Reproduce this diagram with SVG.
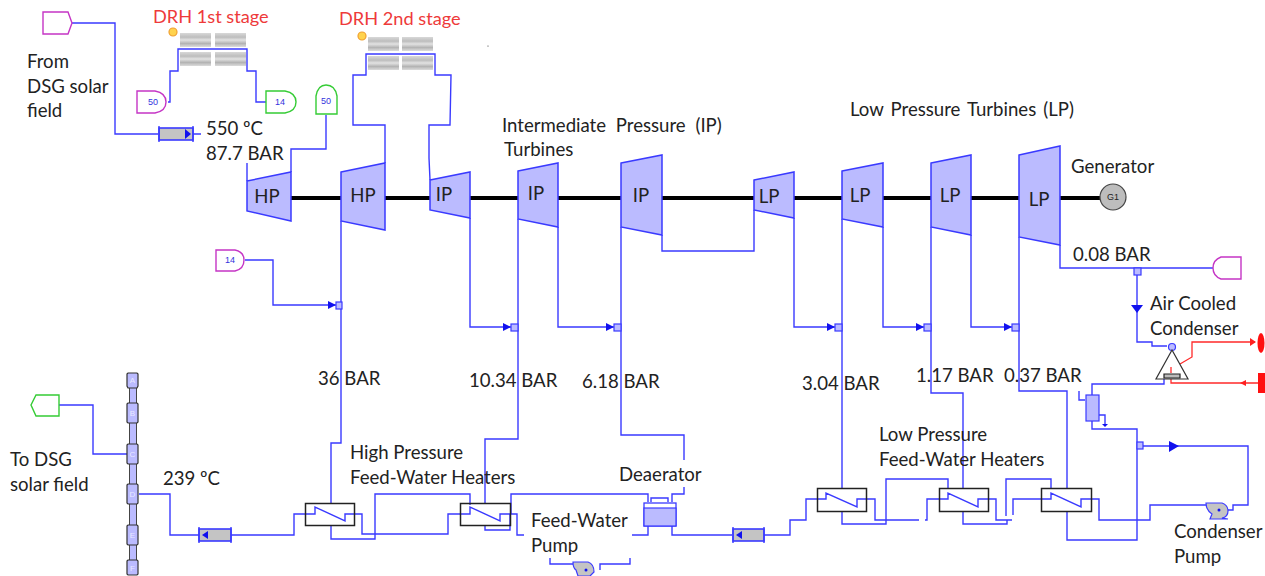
<svg xmlns="http://www.w3.org/2000/svg" width="1265" height="576" viewBox="0 0 1265 576">
<style>
text{font-family:Lato,"Open Sans","Liberation Sans",sans-serif;font-size:18.6px;fill:#222;transform:translateY(1px)}
.red{fill:#ee3a3a;font-size:18.2px}
.c{text-anchor:middle}
.wide{word-spacing:2.5px}
.tag{font-family:"Liberation Sans",sans-serif;font-size:9px;fill:#3333dd;text-anchor:middle;transform:none}
.cell{font-family:"Liberation Sans",sans-serif;font-size:8px;fill:#e8e8ff;text-anchor:middle;transform:none}
.l{fill:none;stroke:#3a3aff;stroke-width:1.4}
.r{fill:none;stroke:#ff2a2a;stroke-width:1.3}
.sh{fill:none;stroke:#000;stroke-width:4}
.t{fill:#bbbbff;stroke:#3a3aff;stroke-width:1.5}
.box{fill:#bbbbff;stroke:#3a3aff;stroke-width:1.2}
.mg{fill:#fff;stroke:#c535c5;stroke-width:1.4}
.gr{fill:#fff;stroke:#35cc35;stroke-width:1.4}
.hx{fill:none;stroke:#222;stroke-width:1.5}
.v{fill:#c4c4c4;stroke:#3a3aff;stroke-width:1.6}
.a{fill:#1111ee}
.sun{fill:#ffd34d;stroke:#f0a030;stroke-width:1.2}
.sol{fill:url(#g)}
</style>
<defs>
<linearGradient id="g" x1="0" y1="0" x2="0" y2="1">
<stop offset="0" stop-color="#d8d8d8"/><stop offset=".3" stop-color="#bdbdbd"/><stop offset=".5" stop-color="#e2e2e2"/><stop offset=".75" stop-color="#b4b4b4"/><stop offset="1" stop-color="#dcdcdc"/>
</linearGradient>
</defs>

<g id="connectors">
<path class="sh" d="M291 198H1100"/>
<path class="l" d="M72 23H115V134H158M193 134H201"/>
<path class="l" d="M168 102H170V71H178V49H247V71H256V102H266"/>
<path class="l" d="M326 115V149H291V172M247 163V181"/>
<path class="l" d="M385 163V125H353V75H366V54H435V75H451L450 125H429V158L430 180"/>
<path class="l" d="M245 260H273V305H336"/>
<path class="l" d="M341 221V443H331V503M331 525V539H375V534"/>
<path class="l" d="M470 218V327H511M558 227V327H614M662 235V251H754V210M794 218V327H835M883 227V327H924M971 235V327H1012"/>
<path class="l" d="M518 219V439H485V503M485 525V530H510V514"/>
<path class="l" d="M621 227V435H684V460M684 487V494H672V502M648 502V494H511V514"/>
<path class="l" d="M842 219V488M842 511V524H886V520M886 520V479H948V488"/>
<path class="l" d="M931 227V393H963V488M963 511V524H1007V520M1006 516V479H1051V488"/>
<path class="l" d="M1019 237V391H1067V488M1067 511V540H1137V429H1092V420M1137 449V429"/>
<path class="l" d="M59 405H93V454H127M139 494H170V535H199M231 535H294V514H315V507L345 521V514H362V534H448V514H470V507L500 521V514H517V535H524"/>
<path class="l" d="M375 534V494H470V505"/>
<path class="l" d="M632 535H648V526M672 526V535H732M764 535H790V520H806V499H826V493L857 507V499H875V520H919M925 520H927V499H948V493L978 507V499H996V520H1012M1013 515V499H1051V493L1081 507V499H1099V520H1150V505H1206M1228 510H1233V505H1248V446H1143"/>
<path class="l" d="M550 558V564H573M600 570V564H630V558"/>
<path class="l" d="M1060 245V268H1213M1137 275V342H1152V346H1167"/>
<path class="l" d="M1164 379V384H1092V395M1079 391V400H1085M1099 415H1105V424"/>
<path class="r" d="M1180 364L1192 357V342H1255M1171 373V383H1258"/>
<path class="a" d="M1131 305H1143L1137 313ZM1169 441L1179 446L1169 452ZM328 301L336 305L328 309ZM503 323L511 327L503 331ZM606 323L614 327L606 331ZM827 323L835 327L827 331ZM916 323L924 327L916 331ZM1004 323L1012 327L1004 331Z"/>
<path d="M1102 424H1108L1105 427Z" class="a"/>
<path d="M1240 383L1246 380V386ZM1250 338L1256 342L1250 346Z" fill="#ff2020"/>
</g>

<g id="source-from-dsg"><path class="mg" d="M43 12H68L72 23L68 34H43Z"/></g>
<g id="label-from"><text x="27" y="67">From</text><text x="27" y="92">DSG solar</text><text x="27" y="116">field</text></g>
<g id="valve-hp"><rect class="v" x="159" y="128" width="34" height="12"/><path class="l" d="M159 126V142M193 126V142"/><path class="a" d="M185 129L191 134L185 139Z"/></g>
<g id="drh1">
<text class="red" x="153" y="22">DRH 1st stage</text>
<circle class="sun" cx="173" cy="32" r="4"/>
<rect class="sol" x="180" y="33" width="31" height="14"/><rect class="sol" x="215" y="33" width="31" height="14"/>
<rect class="sol" x="180" y="52" width="31" height="14"/><rect class="sol" x="215" y="52" width="31" height="14"/>
</g>
<g id="drh2">
<text class="red" x="339" y="24">DRH 2nd stage</text>
<circle class="sun" cx="362" cy="36" r="4"/>
<rect class="sol" x="368" y="37" width="31" height="14"/><rect class="sol" x="402" y="37" width="31" height="14"/>
<rect class="sol" x="368" y="56" width="31" height="14"/><rect class="sol" x="402" y="56" width="31" height="14"/>
</g>
<g id="tag-50-a"><path class="mg" d="M137 91H155Q166 93 166 102Q166 111 155 113H137Z"/><text class="tag" x="153" y="105">50</text></g>
<g id="tag-14-a"><path class="gr" d="M266 91H285Q296 93 296 102Q296 111 285 113H266Z"/><text class="tag" x="280" y="105">14</text></g>
<g id="tag-50-b"><path class="gr" d="M316 114V96Q318 85 326 85Q335 85 337 96V114Z"/><text class="tag" x="326" y="104">50</text></g>
<g id="tag-14-b"><path class="mg" d="M216 250H235Q244 252 244 260Q244 269 235 271H216Z"/><text class="tag" x="230" y="263">14</text></g>
<g id="label-steam"><text x="206" y="134">550 ºC</text><text x="206" y="159">87.7 BAR</text></g>

<g id="hp1"><path class="t" d="M247 181L291 172V221L247 211Z"/><text class="c" x="267" y="202">HP</text></g>
<g id="hp2"><path class="t" d="M341 172L385 163V230L341 221Z"/><text class="c" x="363" y="201">HP</text></g>
<g id="ip1"><path class="t" d="M430 180L470 172V218L430 210Z"/><text class="c" x="444" y="200">IP</text></g>
<g id="ip2"><path class="t" d="M518 171L558 163V227L518 219Z"/><text class="c" x="536" y="199">IP</text></g>
<g id="ip3"><path class="t" d="M621 163L662 155V235L621 227Z"/><text class="c" x="641" y="201">IP</text></g>
<g id="lp1"><path class="t" d="M754 180L794 172V218L754 210Z"/><text class="c" x="769" y="202">LP</text></g>
<g id="lp2"><path class="t" d="M842 171L883 163V227L842 219Z"/><text class="c" x="860" y="201">LP</text></g>
<g id="lp3"><path class="t" d="M931 163L971 155V235L931 227Z"/><text class="c" x="950" y="201">LP</text></g>
<g id="lp4"><path class="t" d="M1019 155L1060 146V245L1019 237Z"/><text class="c" x="1039" y="205">LP</text></g>
<g id="generator"><circle cx="1113" cy="197" r="13" fill="#bdbdbd" stroke="#444" stroke-width="1.2"/><text class="tag" style="fill:#222" x="1113" y="200">G1</text><text x="1071" y="172">Generator</text></g>

<g id="labels">
<text class="wide" x="502" y="131" style="word-spacing:5px">Intermediate Pressure (IP)</text>
<text x="504" y="155">Turbines</text>
<text class="wide" x="850" y="115" style="word-spacing:2.300px">Low Pressure Turbines (LP)</text>
<text x="1073" y="260">0.08 BAR</text>
<text x="1150" y="309">Air Cooled</text>
<text x="1150" y="334">Condenser</text>
<text x="318" y="384">36 BAR</text>
<text x="469" y="386">10.34 BAR</text>
<text x="582" y="387">6.18 BAR</text>
<text x="802" y="389">3.04 BAR</text>
<text x="916" y="381">1.17 BAR</text>
<text x="1004" y="381">0.37 BAR</text>
<text x="350" y="458">High Pressure</text>
<text x="350" y="483">Feed-Water Heaters</text>
<text x="619" y="480">Deaerator</text>
<text x="531" y="526">Feed-Water</text>
<text x="531" y="551">Pump</text>
<text x="879" y="440">Low Pressure</text>
<text x="879" y="465">Feed-Water Heaters</text>
<text x="1174" y="537">Condenser</text>
<text x="1174" y="562">Pump</text>
<text x="10" y="465">To DSG</text>
<text x="10" y="490">solar field</text>
<text x="163" y="484">239 ºC</text>
</g>

<g id="sink-0-08"><path class="mg" d="M1241 257H1221Q1213 260 1213 268Q1213 276 1221 279H1241Z"/></g>
<g id="tag-to-dsg"><path class="gr" d="M59 395H36L31 405L36 416H59Z"/></g>
<g id="deaerator-column">
<path d="M129.500 380H136.500V570H129.500Z" fill="#bbbbff" stroke="#444" stroke-width="1"/>
<g fill="#bbbbff" stroke="#333" stroke-width="1.200">
<path d="M127 374L128 373H137L138 374V386L137 388H128L127 386Z"/><path d="M127 404L128 403H137L138 404V422L137 423H128L127 422Z"/><path d="M127 445L128 444H137L138 445V463L137 464H128L127 463Z"/><path d="M127 485L128 484H137L138 485V503L137 504H128L127 503Z"/><path d="M127 526L128 525H137L138 526V544L137 545H128L127 544Z"/><path d="M127 561L128 560H137L138 561V574L137 575H128L127 574Z"/>
</g>
<text class="cell" x="132.500" y="383">A</text><text class="cell" x="132.500" y="416">B</text><text class="cell" x="132.500" y="457">C</text><text class="cell" x="132.500" y="497">D</text><text class="cell" x="132.500" y="538">E</text><text class="cell" x="132.500" y="571">F</text>
</g>
<g id="valve-fw1"><rect class="v" x="199" y="529" width="32" height="12"/><path class="l" d="M199 527V543M231 527V543"/><path class="a" d="M202 535L208 531V539Z"/></g>
<g id="valve-fw2"><rect class="v" x="733" y="529" width="31" height="12"/><path class="l" d="M733 527V543M764 527V543"/><path class="a" d="M736 535L742 531V539Z"/></g>
<g id="heater-1"><rect class="hx" x="305.500" y="503.500" width="49" height="22"/></g>
<g id="heater-2"><rect class="hx" x="460.500" y="503.500" width="50" height="22"/></g>
<g id="heater-3"><rect class="hx" x="817.500" y="488.500" width="49" height="23"/></g>
<g id="heater-4"><rect class="hx" x="939.500" y="488.500" width="49" height="23"/></g>
<g id="heater-5"><rect class="hx" x="1041.500" y="488.500" width="50" height="23"/></g>
<g id="deaerator"><path class="l" d="M651 502V498H668V502"/><rect x="644" y="503" width="32" height="23" fill="#fff" stroke="#3a3aff" stroke-width="1.3"/><rect class="box" x="644" y="508" width="32" height="18"/></g>
<g id="feed-pump"><path d="M573 562H588Q594 564 594 572L590 576H578L576 570Q573 568 573 562Z" fill="#c4c4c4" stroke="#3a3aff" stroke-width="1.2"/><circle class="a" cx="586" cy="570" r="1.500"/></g>
<g id="condenser-pump"><path d="M1206 503H1222Q1228 505 1228 511Q1228 517 1222 518L1228 519H1210L1212 514Q1206 510 1206 503Z" fill="#c4c4c4" stroke="#3a3aff" stroke-width="1.200"/><circle class="a" cx="1219" cy="510" r="1.500"/></g>
<g id="junctions"><rect class="box" x="336" y="302" width="6" height="7"/><rect class="box" x="511" y="324" width="7" height="7"/><rect class="box" x="614" y="324" width="7" height="7"/><rect class="box" x="835" y="324" width="7" height="7"/><rect class="box" x="924" y="324" width="7" height="7"/><rect class="box" x="1012" y="324" width="7" height="7"/><rect class="box" x="1134" y="268" width="7" height="7"/><rect class="box" x="1137" y="442" width="6" height="7"/></g>
<g id="air-condenser"><circle class="box" cx="1172" cy="347" r="3.500"/><path d="M1172 350L1156 379H1188Z" fill="#fff" stroke="#333" stroke-width="1.200"/><path d="M1164 374H1180V378H1164Z" fill="#bbb" stroke="#222" stroke-width="1.200"/><path class="r" d="M1171 367V373"/></g>
<g id="hot-well"><rect class="box" x="1086" y="395" width="13" height="26"/></g>
<g id="air-out"><ellipse cx="1261" cy="343" rx="3.500" ry="10" fill="#ff1010"/></g>
<g id="air-in"><rect x="1258" y="373" width="7" height="20" fill="#ff1010"/></g>
<circle cx="488" cy="46" r=".6" fill="#333"/>
</svg>
